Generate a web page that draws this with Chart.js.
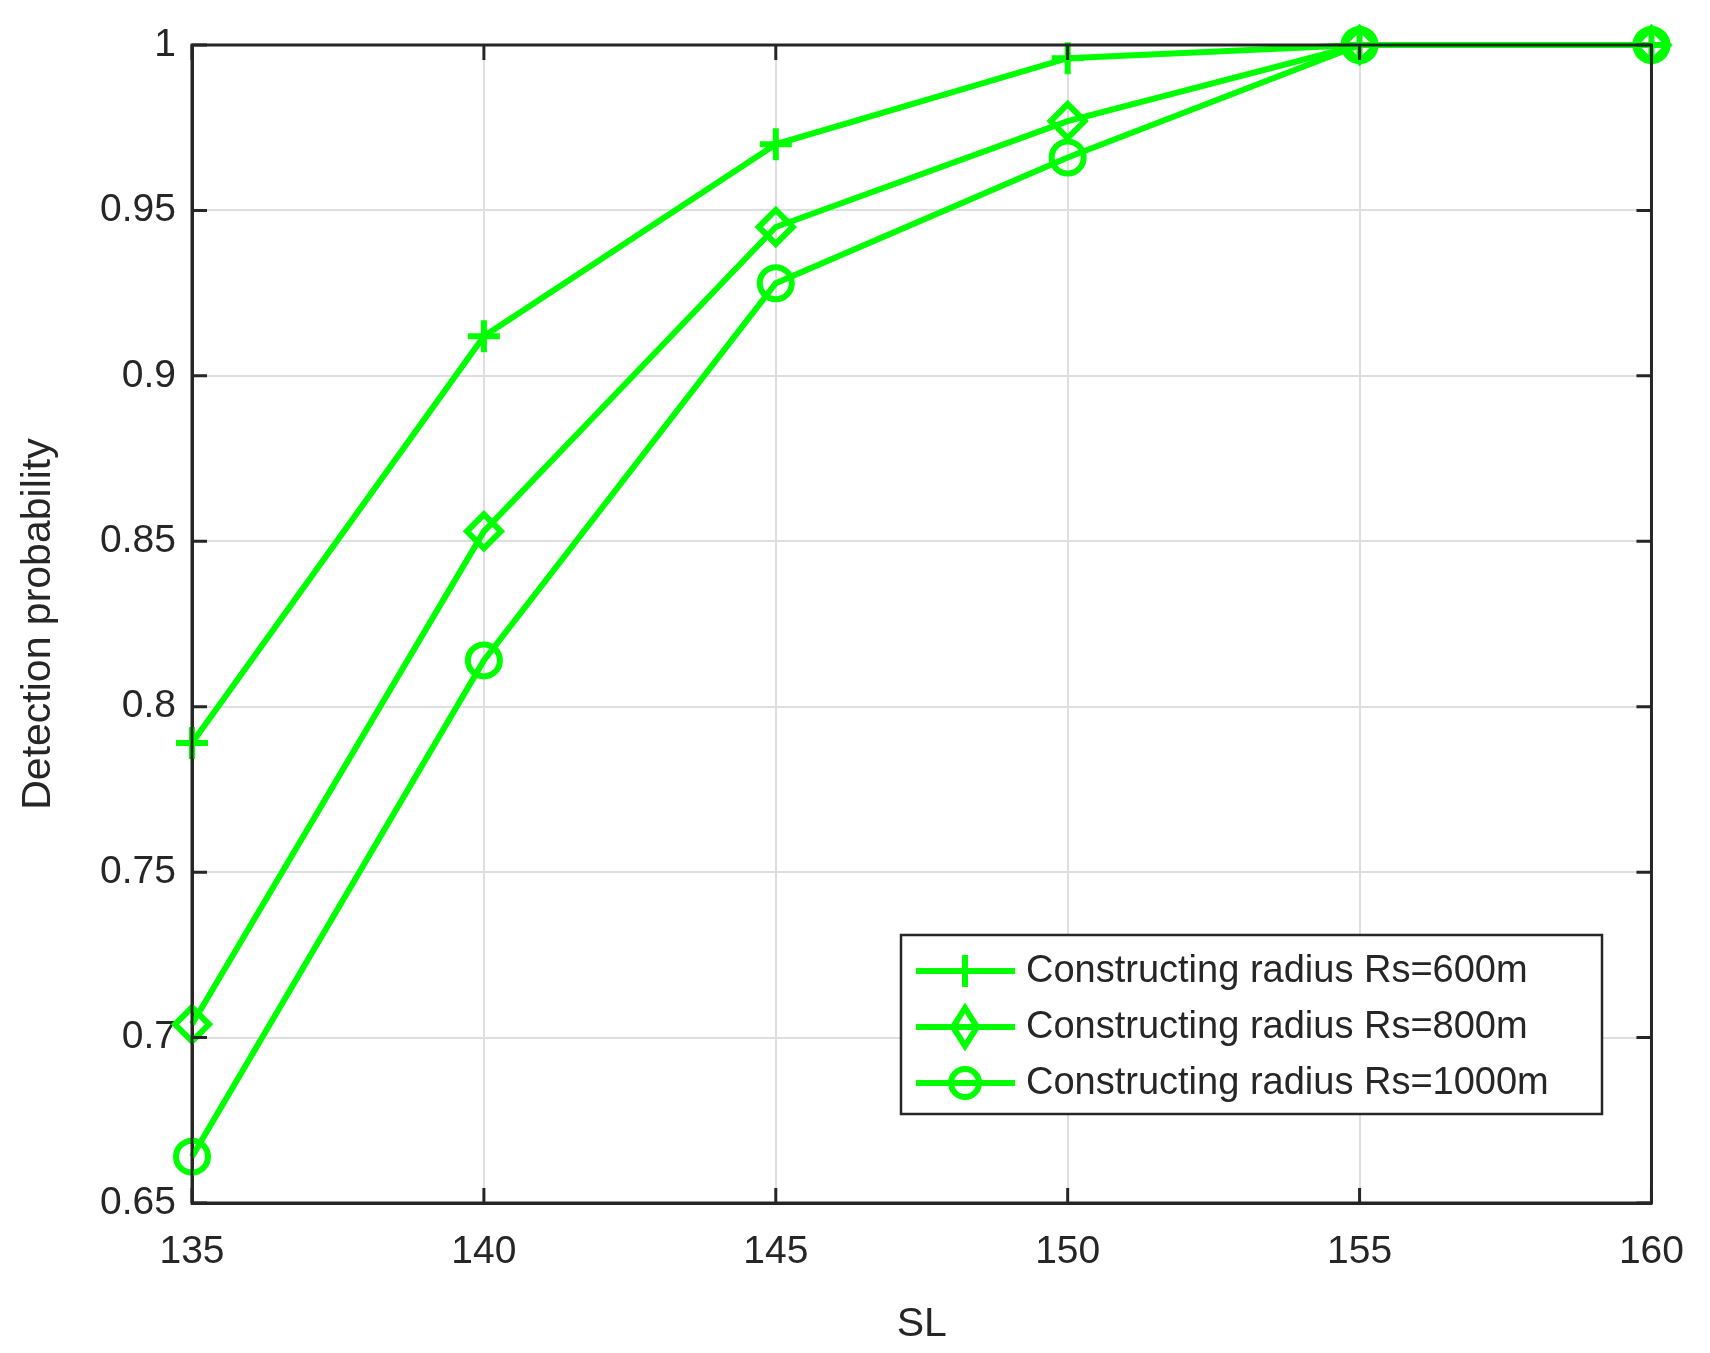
<!DOCTYPE html>
<html><head><meta charset="utf-8">
<script src="https://cdn.jsdelivr.net/npm/chart.js@4"></script>
<style>html,body{margin:0;padding:0;background:#fff}#w{width:1710px;height:1353px}</style>
</head><body><div id="w"><canvas id="c"></canvas></div>
<script>
const slValues=[135,140,145,150,155,160];
const seriesNames=['Constructing radius Rs=600m','Constructing radius Rs=800m','Constructing radius Rs=1000m'];
const rs600=[0.789,0.912,0.970,0.996,1,1];
const rs800=[0.704,0.853,0.945,0.977,1,1];
const rs1000=[0.664,0.814,0.928,0.966,1,1];
const yTicks=[0.65,0.7,0.75,0.8,0.85,0.9,0.95,1];
const green='#00ff00';
const styles=['cross','rectRot','circle'];
const ds=[rs600,rs800,rs1000].map((v,i)=>({label:seriesNames[i],data:v.map((y,j)=>({x:slValues[j],y})),
 borderColor:green,backgroundColor:'rgba(0,0,0,0)',pointBorderColor:green,borderWidth:6,pointBorderWidth:6,
 pointStyle:styles[i],pointRadius:i==1?17:16,tension:0,clip:false}));
const font='"Liberation Sans", Arial, sans-serif';
const framePlugin={id:'fr',afterDatasetsDraw(ch){const c=ch.ctx,a=ch.chartArea;c.save();c.strokeStyle='#262626';c.lineWidth=3;
 c.strokeRect(a.left,a.top,a.right-a.left,a.bottom-a.top);
 const xs=ch.scales.x,ys=ch.scales.y;c.beginPath();
 slValues.forEach(v=>{const x=xs.getPixelForValue(v);c.moveTo(x,a.bottom);c.lineTo(x,a.bottom-15);c.moveTo(x,a.top);c.lineTo(x,a.top+15);});
 yTicks.forEach(v=>{const y=ys.getPixelForValue(v);c.moveTo(a.left,y);c.lineTo(a.left+15,y);c.moveTo(a.right,y);c.lineTo(a.right-15,y);});
 c.stroke();c.restore();}};
const legendPlugin={id:'lg',afterDraw(ch){const c=ch.ctx;c.save();
 const x0=901,y0=935,w=701,h=179;c.fillStyle='#fff';c.fillRect(x0,y0,w,h);c.strokeStyle='#262626';c.lineWidth=2.5;c.strokeRect(x0,y0,w,h);
 c.font='38px '+font;c.textBaseline='middle';
 for(let i=0;i<3;i++){const y=y0+36+i*56;c.strokeStyle=green;c.lineWidth=6;c.beginPath();c.moveTo(916,y);c.lineTo(1015,y);c.stroke();
  const mx=965,r=16;c.beginPath();
  if(i==0){c.moveTo(mx-r,y);c.lineTo(mx+r,y);c.moveTo(mx,y-r);c.lineTo(mx,y+r);}
  else if(i==1){c.moveTo(mx,y-r-3);c.lineTo(mx+r*0.75,y);c.lineTo(mx,y+r+3);c.lineTo(mx-r*0.75,y);c.closePath();}
  else{c.arc(mx,y,r-2,0,Math.PI*2);}
  c.stroke();c.fillStyle='#262626';c.fillText(seriesNames[i],1026,y+1);}
 c.restore();}};
new Chart(document.getElementById('c'),{type:'line',data:{datasets:ds},plugins:[framePlugin,legendPlugin],
 options:{responsive:true,maintainAspectRatio:false,animation:false,layout:{padding:{top:45,right:53,left:10,bottom:0}},
 plugins:{legend:{display:false},tooltip:{enabled:false}},
 scales:{
  x:{type:'linear',min:135,max:160,afterBuildTicks:s=>{s.ticks=slValues.map(v=>({value:v}))},
   afterFit:s=>{s.height=150},
   grid:{color:'#dedede',lineWidth:2,drawTicks:false},border:{color:'#262626',width:3},
   ticks:{color:'#262626',font:{family:font,size:39},padding:26},
   title:{display:true,text:'SL',color:'#262626',font:{family:font,size:41},padding:{top:14}}},
  y:{min:0.65,max:1,afterBuildTicks:s=>{s.ticks=yTicks.map(v=>({value:v}))},
   afterFit:s=>{s.width=182},
   grid:{color:'#dedede',lineWidth:2,drawTicks:false},border:{color:'#262626',width:3},
   ticks:{color:'#262626',font:{family:font,size:39},padding:16,callback:v=>String(+v.toFixed(2))},
   title:{display:true,text:'Detection probability',color:'#262626',font:{family:font,size:41},padding:{bottom:0}}}
 }}});
</script></body></html>
